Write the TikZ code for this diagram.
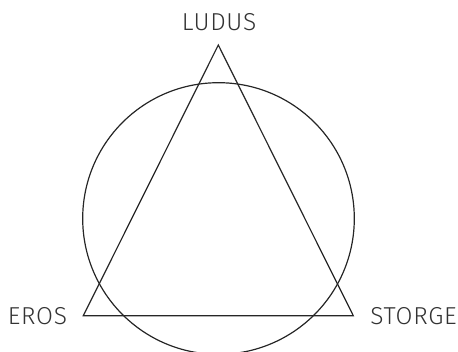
\documentclass[tikz,border=0pt]{standalone}
\usepackage{fontspec}
\setmainfont{Fira Sans}[UprightFont=* Light, LetterSpace=3]
\tikzset{
  lbl/.style={inner sep=0pt, font=\fontsize{24.5}{24.5}\selectfont, text=black!80},
  outline/.style={draw=black!85, line width=1.2pt, line join=miter}
}
\begin{document}
\begin{tikzpicture}[x=1pt,y=-1pt]
\useasboundingbox (0,0) rectangle (458,351);
\coordinate (top) at (218.3,45);
\coordinate (left) at (83.3,315.7);
\coordinate (right) at (353.3,315.7);
\draw[outline] (218.5,218.5) circle[radius=135.8];
\draw[outline] (top) -- (left) -- (right) -- cycle;
\node[lbl] (ludus) at (219,22) {LUDUS};
\node[lbl] (eros) at (37.5,316) {EROS};
\node[lbl] (storge) at (413.5,316) {STORGE};
\end{tikzpicture}
\end{document}
